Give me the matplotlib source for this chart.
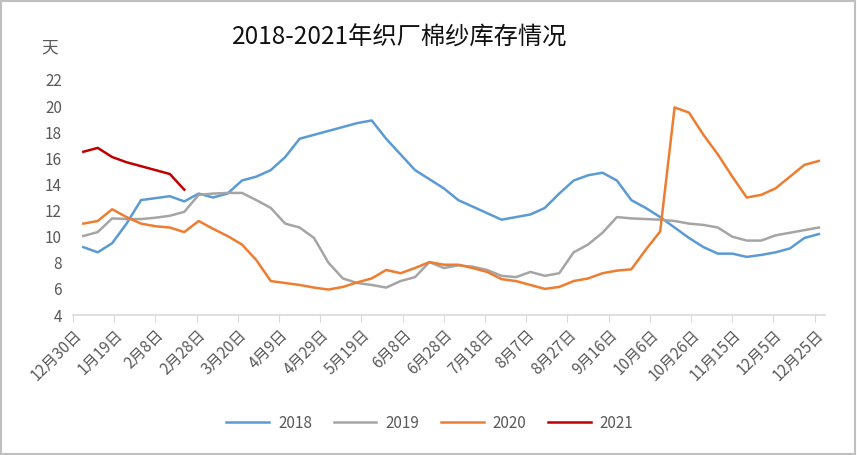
import matplotlib

matplotlib.use("Agg")

import matplotlib.pyplot as plt
from matplotlib import font_manager
import numpy as np

cjk = sorted({f.name for f in font_manager.fontManager.ttflist if "CJK" in f.name})
plt.rcParams["font.family"] = (["Noto Sans CJK SC"] if "Noto Sans CJK SC" in cjk else cjk[:1]) + ["DejaVu Sans"]

# weekly observations, first one 5 days after 12/30
weeks_2018 = [9.2, 8.8, 9.5, 11.0, 12.8, 12.95, 13.1, 12.7, 13.3, 13.0, 13.3, 14.3, 14.6,
              15.1, 16.1, 17.5, 17.8, 18.1, 18.4, 18.7, 18.9, 17.5, 16.3, 15.1, 14.4, 13.7,
              12.8, 12.3, 11.8, 11.3, 11.5, 11.7, 12.2, 13.3, 14.3, 14.7, 14.9, 14.3, 12.8,
              12.2, 11.5, 10.7, 9.9, 9.2, 8.7, 8.7, 8.45, 8.6, 8.8, 9.1, 9.9, 10.2]
weeks_2019 = [10.05, 10.35, 11.4, 11.35, 11.35, 11.45, 11.6, 11.9, 13.2, 13.3, 13.35, 13.35,
              12.8, 12.2, 11.0, 10.7, 9.9, 8.0, 6.8, 6.45, 6.3, 6.1, 6.6, 6.9, 8.05, 7.6,
              7.8, 7.7, 7.45, 7.0, 6.9, 7.3, 7.0, 7.2, 8.8, 9.4, 10.3, 11.5, 11.4, 11.35,
              11.3, 11.2, 11.0, 10.9, 10.7, 10.0, 9.7, 9.7, 10.1, 10.3, 10.5, 10.7]
weeks_2020 = [11.0, 11.2, 12.1, 11.5, 11.0, 10.8, 10.7, 10.35, 11.2, 10.6, 10.05, 9.4, 8.2,
              6.6, 6.45, 6.3, 6.1, 5.95, 6.15, 6.5, 6.8, 7.45, 7.2, 7.6, 8.05, 7.85,
              7.85, 7.6, 7.3, 6.75, 6.6, 6.3, 6.0, 6.15, 6.6, 6.8, 7.2, 7.4, 7.5, 9.0,
              10.4, 19.9, 19.5, 17.8, 16.3, 14.6, 13.0, 13.2, 13.7, 14.6, 15.5, 15.8]
weeks_2021 = [16.5, 16.8, 16.1, 15.7, 15.4, 15.1, 14.8, 13.6]

tick_labels = ["12月30日", "1月19日", "2月8日", "2月28日", "3月20日", "4月9日", "4月29日",
               "5月19日", "6月8日", "6月28日", "7月18日", "8月7日", "8月27日", "9月16日",
               "10月6日", "10月26日", "11月15日", "12月5日", "12月25日"]

series = [("2018", weeks_2018, "#5B9BD5"),
          ("2019", weeks_2019, "#A5A5A5"),
          ("2020", weeks_2020, "#ED7D31"),
          ("2021", weeks_2021, "#C00000")]

fig = plt.figure(figsize=(8.57, 4.55), dpi=100)
ax = fig.add_axes([73 / 857, 1 - 315 / 455, 752 / 857, 235 / 455])

for name, vals, color in series:
    days = 5 + 7 * np.arange(len(vals))
    ax.plot(days, vals, color=color, lw=1.8, label=name)

ax.set_xlim(0, 365)
ax.set_ylim(4, 22)
ax.set_yticks(range(4, 23, 2))
ax.set_xticks(np.arange(len(tick_labels)) * 20)
ax.set_xticklabels(tick_labels, rotation=45, ha="right", rotation_mode="anchor")
ax.tick_params(axis="y", length=0, labelsize=11, colors="#595959", pad=8)
ax.tick_params(axis="x", length=5, color="#D9D9D9", labelsize=11, labelcolor="#595959")
for side in ["top", "right", "left"]:
    ax.spines[side].set_visible(False)
ax.spines["bottom"].set_color("#D9D9D9")
ax.spines["bottom"].set_linewidth(1.2)

fig.text(50 / 857, 1 - 48 / 455, "天", fontsize=12, color="#595959", ha="center", va="center")
fig.text(400 / 857, 1 - 38 / 455, "2018-2021年织厂棉纱库存情况", fontsize=17.5, color="#111111",
         ha="center", va="center")
ax.legend(loc="center", bbox_to_anchor=(430 / 857, 1 - 423 / 455), bbox_transform=fig.transFigure,
          ncol=4, frameon=False, fontsize=11, handlelength=2.8, columnspacing=1.4,
          handletextpad=0.6, labelcolor="#595959")

fig.patches.append(plt.Rectangle((0.001, 0.002), 0.997, 0.996, transform=fig.transFigure,
                                 fill=False, edgecolor="#BFBFBF", lw=1.5))
fig.savefig("out.png")
